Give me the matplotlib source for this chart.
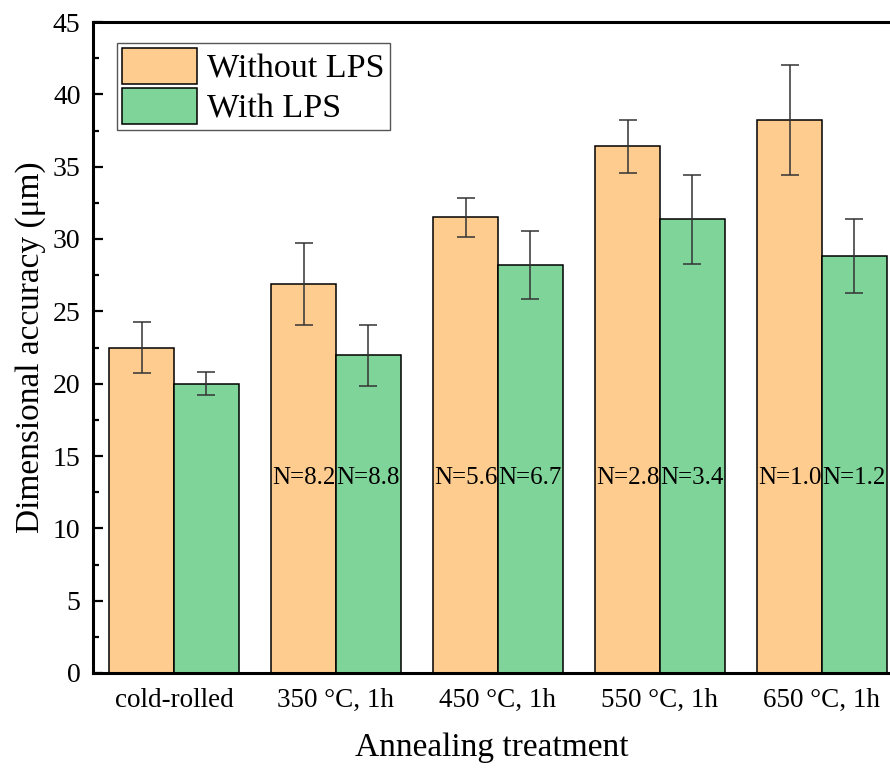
import numpy as np
import matplotlib.pyplot as plt

# data
categories = ["cold-rolled", "350 \u00b0C, 1h", "450 \u00b0C, 1h",
              "550 \u00b0C, 1h", "650 \u00b0C, 1h"]
without_lps = [22.5, 26.9, 31.5, 36.4, 38.2]
without_err = [1.75, 2.85, 1.35, 1.85, 3.8]
with_lps = [20.0, 21.95, 28.2, 31.35, 28.8]
with_err = [0.8, 2.1, 2.35, 3.1, 2.55]
n_without = ["", "N=8.2", "N=5.6", "N=2.8", "N=1.0"]
n_with = ["", "N=8.8", "N=6.7", "N=3.4", "N=1.2"]
N_LABEL_Y = 13.5

ORANGE = "#FFCC8F"
GREEN = "#7FD49A"

plt.rcParams["font.family"] = ["Liberation Serif", "DejaVu Serif"]

fig = plt.figure(figsize=(8.9, 7.7), dpi=100)
ax = fig.add_axes([93 / 890, 97 / 770, 1 - 93 / 890, 651 / 770])

x = np.arange(len(categories))
w = 0.4
err_kw = dict(ecolor="#333333", elinewidth=1.1, capsize=6.5, capthick=1.1)

ax.bar(x - w / 2, without_lps, w, yerr=without_err, color=ORANGE,
       edgecolor="black", linewidth=1.1, label="Without LPS",
       error_kw=err_kw)
ax.bar(x + w / 2, with_lps, w, yerr=with_err, color=GREEN,
       edgecolor="black", linewidth=1.1, label="With LPS",
       error_kw=err_kw)

# N values written inside the bars
for i in range(len(categories)):
    if n_without[i]:
        ax.text(x[i] - w / 2, N_LABEL_Y, n_without[i], ha="center",
                va="center", fontsize=18)
        ax.text(x[i] + w / 2, N_LABEL_Y, n_with[i], ha="center",
                va="center", fontsize=18)

ax.set_xlim(-0.5, 4.42)
ax.set_ylim(0, 45)
ax.set_yticks(np.arange(0, 46, 5))
ax.set_yticks(np.arange(2.5, 45, 5), minor=True)
ax.set_xticks(x)
ax.set_xticklabels(categories, fontsize=19.5)

ax.tick_params(axis="y", which="major", direction="in", length=7,
               width=1.6, labelsize=20, pad=9)
ax.tick_params(axis="y", which="minor", direction="in", length=4,
               width=1.6)
ax.tick_params(axis="x", length=0, pad=11)

for side in ["left", "bottom", "top"]:
    ax.spines[side].set_linewidth(2.2)
ax.spines["right"].set_visible(False)

ax.set_xlabel("Annealing treatment", fontsize=24, labelpad=14)
ax.set_ylabel("Dimensional accuracy (\u03bcm)", fontsize=24, labelpad=5)

leg = ax.legend(loc="upper left", bbox_to_anchor=(0.03, 0.968),
                fontsize=24.5, handlelength=2.2, handleheight=1.25,
                labelspacing=0.12, borderpad=0.15, handletextpad=0.3,
                fancybox=False, framealpha=1, borderaxespad=0)
leg.get_frame().set_edgecolor("#555555")
leg.get_frame().set_linewidth(1.0)

plt.savefig("out.png", dpi=100)
